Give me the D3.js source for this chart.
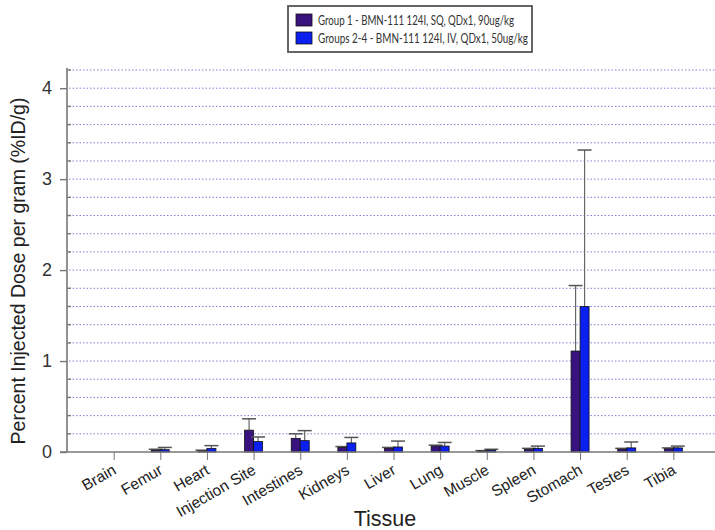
<!DOCTYPE html>
<html>
<head>
<meta charset="utf-8">
<script src="https://cdn.jsdelivr.net/npm/d3@7"></script>
<style>
  html, body { margin: 0; padding: 0; background: #fff; }
  svg { display: block; }
</style>
</head>
<body>
<div id="chart"></div>
<script>
// ---- data ----
const tissues = ['Brain', 'Femur', 'Heart', 'Injection Site', 'Intestines', 'Kidneys', 'Liver',
  'Lung', 'Muscle', 'Spleen', 'Stomach', 'Testes', 'Tibia']
const group1 = [0, 0.02, 0.01, 0.24, 0.15, 0.05, 0.04, 0.065, 0.01, 0.03, 1.11, 0.03, 0.035]
const group1Err = [0, 0.01, 0.01, 0.125, 0.05, 0.01, 0.01, 0.01, 0.005, 0.01, 0.72, 0.01, 0.01]
const group2 = [0, 0.025, 0.04, 0.115, 0.125, 0.10, 0.055, 0.065, 0.02, 0.04, 1.60, 0.045, 0.045]
const group2Err = [0, 0.025, 0.03, 0.05, 0.11, 0.06, 0.065, 0.04, 0.01, 0.025, 1.72, 0.065, 0.02]
const seriesNames = ['Group 1 - BMN-111 124I, SQ, QDx1, 90ug/kg', 'Groups 2-4 - BMN-111 124I, IV, QDx1, 50ug/kg']
const seriesColors = ['#38127f', '#0a1ff0']
const yMajorTicks = [0, 1, 2, 3, 4]

const W = 715, H = 530
const margin = { top: 70, right: -5, bottom: 78, left: 67 }
const font = '"Liberation Sans", Arial, sans-serif'

const svg = d3.select('#chart').append('svg')
  .attr('width', W).attr('height', H)

const x = d3.scalePoint()
  .domain(tissues)
  .range([margin.left, W - margin.right])
  .padding(1)

const y = d3.scaleLinear()
  .domain([0, 4.2])
  .range([H - margin.bottom, margin.top])

const barW = 9

// ---- gridlines (dotted, every 0.2) ----
const minorVals = d3.range(1, 22).map(i => +(i * 0.2).toFixed(1))
svg.append('g').attr('class', 'gridlines')
  .selectAll('line').data(minorVals).enter().append('line')
  .attr('x1', margin.left + 2).attr('x2', W)
  .attr('y1', d => y(d)).attr('y2', d => y(d))
  .attr('stroke', '#7f7fd6').attr('stroke-width', 1)
  .attr('stroke-dasharray', '1.5,2')

// ---- bars ----
const rows = tissues.map((t, i) => ({
  tissue: t,
  vals: [
    { k: 0, v: group1[i], e: group1Err[i] },
    { k: 1, v: group2[i], e: group2Err[i] }
  ]
}))

const groups = svg.append('g').attr('class', 'bars')
  .selectAll('g').data(rows).enter().append('g')
  .attr('transform', d => `translate(${x(d.tissue)},0)`)

const items = groups.selectAll('g').data(d => d.vals.filter(v => v.v > 0)).enter().append('g')

// error bars (upward only)
items.append('line')
  .attr('x1', d => (d.k === 0 ? -barW / 2 : barW / 2))
  .attr('x2', d => (d.k === 0 ? -barW / 2 : barW / 2))
  .attr('y1', d => y(d.v)).attr('y2', d => y(d.v + d.e))
  .attr('stroke', '#666').attr('stroke-width', 1.2)
items.append('line')
  .attr('x1', d => (d.k === 0 ? -barW / 2 : barW / 2) - 7)
  .attr('x2', d => (d.k === 0 ? -barW / 2 : barW / 2) + 7)
  .attr('y1', d => y(d.v + d.e)).attr('y2', d => y(d.v + d.e))
  .attr('stroke', '#555').attr('stroke-width', 1.5)

items.append('rect')
  .attr('x', d => (d.k === 0 ? -barW : 0))
  .attr('width', barW)
  .attr('y', d => y(d.v))
  .attr('height', d => y(0) - y(d.v))
  .attr('fill', d => seriesColors[d.k])
  .attr('stroke', '#111').attr('stroke-width', 0.8)

// ---- axes ----
const yAxis = svg.append('g')
  .attr('transform', `translate(${margin.left},0)`)
  .call(d3.axisLeft(y).tickValues(yMajorTicks).tickSize(7).tickPadding(8).tickFormat(d3.format('d')))
yAxis.select('.domain').attr('stroke', '#777').attr('stroke-width', 1.6)
  .attr('d', `M0,${y(0)}V${y(4.2) - 2}`)
yAxis.selectAll('.tick line').attr('stroke', '#777').attr('stroke-width', 1.4)
yAxis.selectAll('.tick text')
  .attr('fill', '#333').attr('font-size', '18px').attr('font-family', font)

// minor ticks pointing inward
svg.append('g').selectAll('line')
  .data(minorVals.filter(v => Math.abs(v - Math.round(v)) > 1e-6))
  .enter().append('line')
  .attr('x1', margin.left).attr('x2', margin.left + 4)
  .attr('y1', d => y(d)).attr('y2', d => y(d))
  .attr('stroke', '#777').attr('stroke-width', 1.4)

const xAxis = svg.append('g')
  .attr('transform', `translate(0,${y(0)})`)
  .call(d3.axisBottom(x).tickSize(8).tickPadding(4))
xAxis.select('.domain').attr('stroke', '#777').attr('stroke-width', 1.6)
  .attr('d', `M${margin.left - 7},0H${W}`)
xAxis.selectAll('.tick line').attr('stroke', '#777').attr('stroke-width', 1)
xAxis.selectAll('.tick text')
  .attr('fill', '#222').attr('font-size', '15.5px').attr('font-family', font)
  .attr('text-anchor', 'end')
  .attr('dy', null).attr('y', 0)
  .attr('transform', 'translate(3,21) rotate(-30)')

// axis titles
svg.append('text')
  .attr('transform', 'translate(25,271) rotate(-90)')
  .attr('text-anchor', 'middle')
  .attr('fill', '#222').attr('font-size', '19.5px').attr('font-family', font)
  .text('Percent Injected Dose per gram (%ID/g)')

svg.append('text')
  .attr('x', 385).attr('y', 526)
  .attr('text-anchor', 'middle')
  .attr('fill', '#222').attr('font-size', '21.5px').attr('font-family', font)
  .text('Tissue')

// ---- legend ----
const legendLen = [196, 210]
const legend = svg.append('g').attr('transform', 'translate(288,6)')
legend.append('rect')
  .attr('width', 244).attr('height', 46)
  .attr('fill', '#fff').attr('stroke', '#555').attr('stroke-width', 1.8)
seriesNames.forEach((name, i) => {
  legend.append('rect')
    .attr('x', 8).attr('y', 8 + i * 18).attr('width', 16).attr('height', 12)
    .attr('fill', seriesColors[i]).attr('stroke', '#111').attr('stroke-width', 0.8)
  legend.append('text')
    .attr('x', 30).attr('y', 19 + i * 18)
    .attr('fill', '#333').attr('font-size', '12.5px').attr('font-family', 'Lato, sans-serif')
    .attr('textLength', legendLen[i]).attr('lengthAdjust', 'spacingAndGlyphs')
    .text(name)
})
</script>
</body>
</html>
